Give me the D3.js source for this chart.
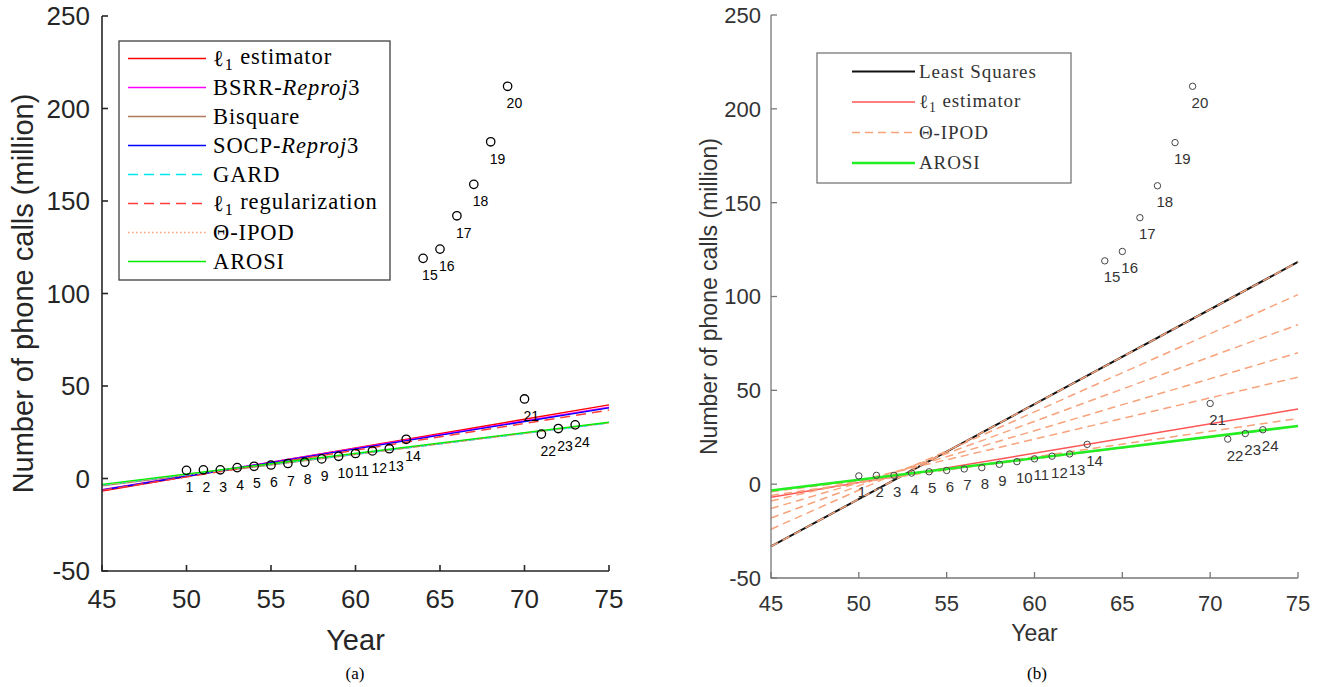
<!DOCTYPE html>
<html>
<head>
<meta charset="utf-8">
<script src="https://cdn.jsdelivr.net/npm/d3@7"></script>
<style>
  body { margin: 0; background: #fff; }
  svg { display: block; }
</style>
</head>
<body>
<script>
// phone calls data (Belgian phone calls, in millions)
var years = [50,51,52,53,54,55,56,57,58,59,60,61,62,63,64,65,66,67,68,69,70,71,72,73];
var calls = [4.4,4.7,4.7,5.9,6.6,7.3,8.1,8.8,10.6,12.0,13.5,14.9,16.1,21.2,119,124,142,159,182,212,43,24,27,29];
var pointLabels = d3.range(1, 25).map(String);

var xTicks = [45,50,55,60,65,70,75];
var yTicks = [-50,0,50,100,150,200,250];

// fitted lines, value at year 45 and year 75
var fitEnds = [45, 75];
var l1A       = [-6.8, 39.8];
var bsrrA     = [-6.0, 38.6];
var bisquareA = [-4.0, 30.2];
var socpA     = [-6.2, 38.2];
var gardA     = [-3.6, 30.0];
var l1regA    = [-6.4, 37.0];
var ipodA     = [-3.6, 30.0];
var arosiA    = [-3.2, 30.4];

var lsB    = [-33.2, 118.4];
var l1B    = [-7.0, 40.0];
var ipodB  = [[-33.2, 118.4], [-24, 101], [-18, 85], [-13, 70], [-9, 57], [-6, 35], [-4, 31]];
var arosiB = [-3.4, 31.0];

var svg = d3.select("body").append("svg")
    .attr("width", 1321)
    .attr("height", 687);

function drawAxes(g, x, y, opt){
  var axisColor = opt.axisColor, textColor = opt.textColor;
  var x0 = x.range()[0], x1 = x.range()[1], y0 = y.range()[0], y1 = y.range()[1];

  // left and bottom axis lines
  g.append("path")
    .attr("d", "M" + x0 + "," + y1 + "V" + y0 + "H" + x1)
    .attr("fill", "none")
    .attr("stroke", axisColor)
    .attr("stroke-width", opt.axisWidth);

  // inward ticks
  g.selectAll(".xtick").data(xTicks).enter().append("line")
    .attr("x1", function(d){ return x(d); }).attr("x2", function(d){ return x(d); })
    .attr("y1", y0).attr("y2", y0 - 6)
    .attr("stroke", axisColor).attr("stroke-width", opt.axisWidth);
  g.selectAll(".ytick").data(yTicks).enter().append("line")
    .attr("y1", function(d){ return y(d); }).attr("y2", function(d){ return y(d); })
    .attr("x1", x0).attr("x2", x0 + 6)
    .attr("stroke", axisColor).attr("stroke-width", opt.axisWidth);

  g.selectAll(".xlab").data(xTicks).enter().append("text")
    .attr("x", function(d){ return x(d); })
    .attr("y", y0 + opt.xLabOff)
    .attr("text-anchor", "middle")
    .attr("font-family", "Liberation Sans, Arial, sans-serif")
    .attr("font-size", opt.tickSize)
    .attr("fill", textColor)
    .text(function(d){ return d; });
  g.selectAll(".ylab").data(yTicks).enter().append("text")
    .attr("x", x0 - opt.yLabOff)
    .attr("y", function(d){ return y(d) + opt.tickSize * 0.36; })
    .attr("text-anchor", "end")
    .attr("font-family", "Liberation Sans, Arial, sans-serif")
    .attr("font-size", opt.tickSize)
    .attr("fill", textColor)
    .text(function(d){ return d; });

  g.append("text")
    .attr("x", (x0 + x1) / 2)
    .attr("y", opt.yearY)
    .attr("text-anchor", "middle")
    .attr("font-family", "Liberation Sans, Arial, sans-serif")
    .attr("font-size", opt.labelSize)
    .attr("fill", textColor)
    .text("Year");
  g.append("text")
    .attr("transform", "translate(" + opt.ylabX + "," + ((y0 + y1) / 2) + ") rotate(-90)")
    .attr("text-anchor", "middle")
    .attr("font-family", "Liberation Sans, Arial, sans-serif")
    .attr("font-size", opt.labelSize)
    .attr("fill", textColor)
    .text("Number of phone calls (million)");
}

function drawFit(g, x, y, ends, color, width, dash){
  var line = d3.line().x(function(d){ return x(d[0]); }).y(function(d){ return y(d[1]); });
  g.append("path")
    .datum([[fitEnds[0], ends[0]], [fitEnds[1], ends[1]]])
    .attr("d", line)
    .attr("fill", "none")
    .attr("stroke", color)
    .attr("stroke-width", width)
    .attr("stroke-dasharray", dash || null);
}

function drawPoints(g, x, y, opt){
  g.selectAll(".pt").data(years).enter().append("circle")
    .attr("cx", function(d){ return x(d); })
    .attr("cy", function(d, i){ return y(calls[i]); })
    .attr("r", opt.r)
    .attr("fill", "none")
    .attr("stroke", opt.color)
    .attr("stroke-width", opt.sw);
  g.selectAll(".ptlab").data(years).enter().append("text")
    .attr("x", function(d){ return x(d) - 1; })
    .attr("y", function(d, i){ return y(calls[i]) + opt.labOff; })
    .attr("font-family", "Liberation Sans, Arial, sans-serif")
    .attr("font-size", opt.size)
    .attr("fill", opt.textColor)
    .text(function(d, i){ return pointLabels[i]; });
}

function legendText(t, parts){
  parts.forEach(function(p){
    var s = t.append("tspan").text(p.t);
    if (p.i) s.attr("font-style", "italic");
    if (p.sub) s.attr("font-size", "0.72em").attr("dy", "0.25em");
    if (p.up) s.attr("dy", "-0.25em");
  });
}

function drawLegend(g, items, box, opt){
  g.append("rect")
    .attr("x", box.x).attr("y", box.y).attr("width", box.w).attr("height", box.h)
    .attr("fill", "#fff").attr("stroke", opt.border).attr("stroke-width", opt.borderWidth);
  items.forEach(function(it, i){
    var cy = box.y + opt.first + i * opt.step;
    g.append("line")
      .attr("x1", opt.lx0).attr("x2", opt.lx1)
      .attr("y1", cy).attr("y2", cy)
      .attr("stroke", it.color).attr("stroke-width", it.w)
      .attr("stroke-dasharray", it.dash || null);
    var t = g.append("text")
      .attr("x", opt.tx)
      .attr("y", cy + opt.size * 0.33)
      .attr("font-family", "Liberation Serif, Times New Roman, serif")
      .attr("font-size", opt.size)
      .attr("letter-spacing", opt.spacing)
      .attr("fill", opt.textColor);
    legendText(t, it.parts);
  });
}

// ---------- panel (a)
var ga = svg.append("g");
var xa = d3.scaleLinear().domain([45, 75]).range([102, 609]);
var ya = d3.scaleLinear().domain([-50, 250]).range([571, 16]);

drawFit(ga, xa, ya, l1A, "#ff0000", 1.4);
drawFit(ga, xa, ya, bsrrA, "#ff00ff", 1.4);
drawFit(ga, xa, ya, bisquareA, "#b07a5c", 1.4);
drawFit(ga, xa, ya, socpA, "#0000ff", 1.4);
drawFit(ga, xa, ya, gardA, "#00e5ee", 1.4, "10,6");
drawFit(ga, xa, ya, l1regA, "#ff3c3c", 1.4, "10,6");
drawFit(ga, xa, ya, ipodA, "#ffa07a", 1.4, "1.5,2.5");
drawFit(ga, xa, ya, arosiA, "#00ee00", 1.4);

drawAxes(ga, xa, ya, {axisColor: "#262626", textColor: "#262626", axisWidth: 1.6,
  tickSize: 26, labelSize: 29, xLabOff: 37, yLabOff: 12, yearY: 650, ylabX: 33});

drawPoints(ga, xa, ya, {r: 4.2, color: "#000", sw: 1.3, size: 14, labOff: 22, textColor: "#000"});

drawLegend(ga, [
  {color: "#ff0000", w: 1.4, parts: [{t: "\u2113"}, {t: "1", sub: true}, {t: " estimator", up: true}]},
  {color: "#ff00ff", w: 1.4, parts: [{t: "BSRR-"}, {t: "Reproj", i: true}, {t: "3"}]},
  {color: "#b07a5c", w: 1.4, parts: [{t: "Bisquare"}]},
  {color: "#0000ff", w: 1.4, parts: [{t: "SOCP-"}, {t: "Reproj", i: true}, {t: "3"}]},
  {color: "#00e5ee", w: 1.4, dash: "10,6", parts: [{t: "GARD"}]},
  {color: "#ff3c3c", w: 1.4, dash: "10,6", parts: [{t: "\u2113"}, {t: "1", sub: true}, {t: " regularization", up: true}]},
  {color: "#ffa07a", w: 1.4, dash: "1.5,2.5", parts: [{t: "\u0398-IPOD"}]},
  {color: "#00ee00", w: 1.4, parts: [{t: "AROSI"}]}
], {x: 119, y: 41, w: 271, h: 239},
  {border: "#404040", borderWidth: 1.3, first: 17.5, step: 29, lx0: 128, lx1: 206, tx: 213, size: 22.5, spacing: 0.9, textColor: "#000"});

ga.append("text")
  .attr("x", 355).attr("y", 679)
  .attr("text-anchor", "middle")
  .attr("font-family", "Liberation Serif, Times New Roman, serif")
  .attr("font-size", 17)
  .text("(a)");

// ---------- panel (b)
var gb = svg.append("g");
var xb = d3.scaleLinear().domain([45, 75]).range([771, 1298]);
var yb = d3.scaleLinear().domain([-50, 250]).range([578, 15]);

drawFit(gb, xb, yb, lsB, "#111", 2);
drawFit(gb, xb, yb, l1B, "#ff5555", 1.5);
ipodB.forEach(function(e){ drawFit(gb, xb, yb, e, "#f7a37c", 1.5, "8,5"); });
drawFit(gb, xb, yb, arosiB, "#22ee22", 2.6);

drawAxes(gb, xb, yb, {axisColor: "#777", textColor: "#333", axisWidth: 1.3,
  tickSize: 22, labelSize: 23, xLabOff: 33, yLabOff: 10, yearY: 641, ylabX: 717});

drawPoints(gb, xb, yb, {r: 3.2, color: "#444", sw: 1, size: 15, labOff: 21.5, textColor: "#333"});

drawLegend(gb, [
  {color: "#111", w: 2, parts: [{t: "Least Squares"}]},
  {color: "#ff5555", w: 1.5, parts: [{t: "\u2113"}, {t: "1", sub: true}, {t: " estimator", up: true}]},
  {color: "#f7a37c", w: 1.5, dash: "8,5", parts: [{t: "\u0398-IPOD"}]},
  {color: "#22ee22", w: 2.6, parts: [{t: "AROSI"}]}
], {x: 817, y: 53, w: 254, h: 130},
  {border: "#777", borderWidth: 1.3, first: 18.5, step: 30.5, lx0: 852, lx1: 915, tx: 919, size: 19, spacing: 0.9, textColor: "#333"});

gb.append("text")
  .attr("x", 1037).attr("y", 679)
  .attr("text-anchor", "middle")
  .attr("font-family", "Liberation Serif, Times New Roman, serif")
  .attr("font-size", 17)
  .text("(b)");
</script>
</body>
</html>
